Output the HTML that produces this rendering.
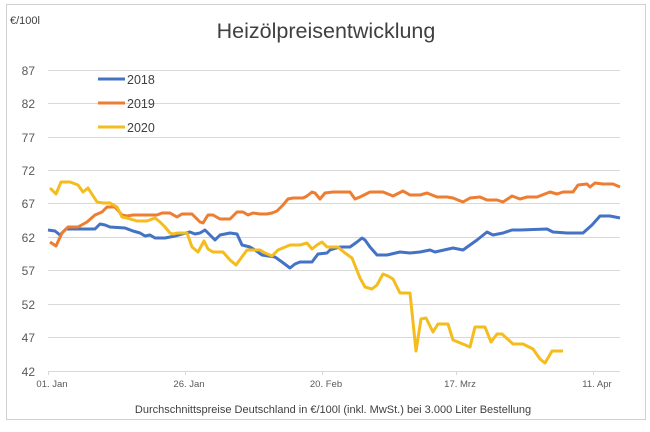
<!DOCTYPE html>
<html><head><meta charset="utf-8"><style>
html,body{margin:0;padding:0;background:#fff;}
</style></head><body>
<svg width="650" height="427" xmlns="http://www.w3.org/2000/svg" font-family="Liberation Sans, sans-serif">
<rect x="6.5" y="4.5" width="639" height="415" fill="#fff" stroke="#d0d0d0"/>
<text x="326" y="38" text-anchor="middle" font-size="21.5" fill="#404040">Heizölpreisentwicklung</text>
<text x="10" y="24" font-size="11" fill="#404040">€/100l</text>
<g stroke="#d9d9d9" stroke-width="1">
<line x1="48" x2="620" y1="70.5" y2="70.5"/><line x1="48" x2="620" y1="103.5" y2="103.5"/>
<line x1="48" x2="620" y1="137.5" y2="137.5"/><line x1="48" x2="620" y1="170.5" y2="170.5"/>
<line x1="48" x2="620" y1="203.5" y2="203.5"/><line x1="48" x2="620" y1="237.5" y2="237.5"/>
<line x1="48" x2="620" y1="270.5" y2="270.5"/><line x1="48" x2="620" y1="304.5" y2="304.5"/>
<line x1="48" x2="620" y1="337.5" y2="337.5"/><line x1="48" x2="620" y1="371.5" y2="371.5"/>
<line x1="48.5" x2="48.5" y1="371" y2="375"/><line x1="185.5" x2="185.5" y1="371" y2="375"/>
<line x1="322.5" x2="322.5" y1="371" y2="375"/><line x1="456.5" x2="456.5" y1="371" y2="375"/>
<line x1="593.5" x2="593.5" y1="371" y2="375"/>
</g>
<g font-size="12" fill="#595959" text-anchor="end">
<text x="35" y="75">87</text><text x="35" y="108">82</text><text x="35" y="142">77</text>
<text x="35" y="175">72</text><text x="35" y="208">67</text><text x="35" y="242">62</text>
<text x="35" y="275">57</text><text x="35" y="309">52</text><text x="35" y="342">47</text>
<text x="35" y="376">42</text>
</g>
<g font-size="9.5" fill="#595959" text-anchor="middle">
<text x="52" y="387">01. Jan</text><text x="189" y="387">26. Jan</text>
<text x="326" y="387">20. Feb</text><text x="460" y="387">17. Mrz</text>
<text x="597" y="387">11. Apr</text>
</g>
<text x="333" y="413" font-size="11" fill="#404040" text-anchor="middle">Durchschnittspreise Deutschland in €/100l (inkl. MwSt.) bei 3.000 Liter Bestellung</text>
<g fill="none" stroke-width="3" stroke-linejoin="round">
<polyline stroke="#4472c4" points="48,230 55,231 60,235 66,229 95,229 100,224 105,225 110,227 125,228 133,231 140,233 145,236 150,235 155,238 165,238 175,236 182,234 190,232 195,234 200,233 205,230 210,235 215,240 220,235 230,233 237,234 242,245 250,247 255,250 262,255 275,257 282,262 290,268 295,264 300,262 312,262 318,254 327,253 330,250 340,247 350,247 357,242 362,238 365,240 370,247 377,255 387,255 400,252 410,253 420,252 430,250 435,252 453,248 463,250 477,240 487,232 493,235 503,233 512,230 520,230 547,229 553,232 567,233 583,233 592,225 600,216 610,216 620,218"/>
<polyline stroke="#ed7d31" points="50,242 56,246 62,233 68,227 78,227 87,222 95,215 102,212 107,207 115,207 122,215 127,216 133,215 157,215 162,213 170,213 177,217 182,214 192,214 200,222 203,223 208,215 213,215 220,219 230,219 237,212 243,212 248,215 253,213 260,214 267,214 272,213 277,211 283,205 288,199 293,198 303,198 307,196 312,192 315,193 320,199 325,193 333,192 350,192 355,199 360,197 370,192 383,192 393,196 403,191 410,195 420,195 427,193 437,197 447,197 453,198 463,202 470,198 480,197 487,200 497,200 503,202 512,196 520,199 527,197 537,197 550,192 557,194 563,192 573,192 578,185 587,184 590,187 595,183 603,184 613,184 620,187"/>
<polyline stroke="#f4bc1c" points="50,188 56,194 61,182 70,182 78,185 83,192 88,188 97,202 103,203 110,203 117,207 122,217 127,218 137,221 147,221 155,218 160,222 165,227 170,233 173,234 178,233 187,233 192,247 198,252 204,241 208,249 213,252 223,252 230,260 236,265 247,250 260,250 265,253 272,256 278,250 290,245 300,245 307,243 312,249 317,245 322,242 327,247 338,247 345,253 352,258 360,278 365,287 372,289 377,285 383,274 388,276 393,279 400,293 410,293 416,351 421,319 426,318 433,332 438,324 448,324 453,340 458,342 470,347 475,327 485,327 491,342 497,334 502,334 513,344 523,344 533,349 540,359 545,363 552,351 563,351"/>
<line x1="98" x2="125" y1="79" y2="79" stroke="#4472c4"/>
<line x1="98" x2="125" y1="103" y2="103" stroke="#ed7d31"/>
<line x1="98" x2="125" y1="127" y2="127" stroke="#f4bc1c"/>
</g>
<g font-size="12.5" fill="#404040">
<text x="127" y="84">2018</text><text x="127" y="108">2019</text><text x="127" y="132">2020</text>
</g>
</svg>
</body></html>
